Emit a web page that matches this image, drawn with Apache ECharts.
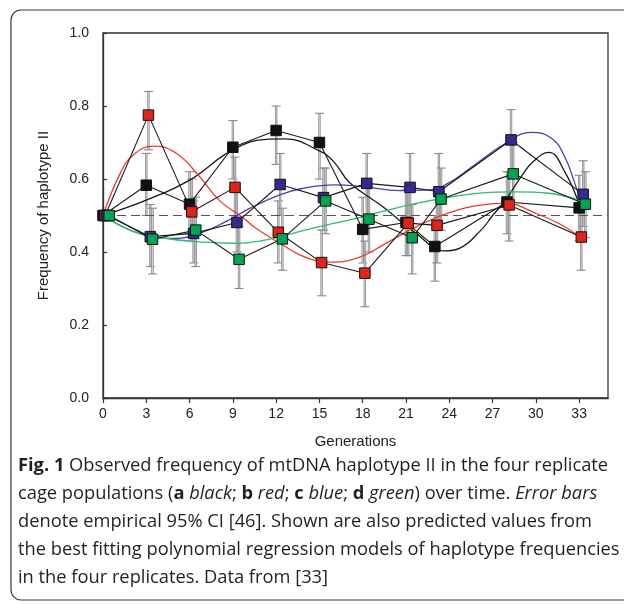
<!DOCTYPE html>
<html>
<head>
<meta charset="utf-8">
<script src="https://cdn.jsdelivr.net/npm/echarts@6/dist/echarts.min.js"></script>
<style>html,body{margin:0;padding:0;background:#fff;}#c{width:624px;height:605px;}</style>
</head>
<body>
<div id="c"></div>
<script>
// ---- data ----
const generations = [0, 3, 6, 9, 12, 15, 18, 21, 23, 28, 33];
const xTicks = [0, 3, 6, 9, 12, 15, 18, 21, 24, 27, 30, 33];
const yTicks = [0, 0.2, 0.4, 0.6, 0.8, 1.0];
const refLevel = 0.5;

const freqA = [0.50, 0.583, 0.531, 0.687, 0.733, 0.700, 0.462, 0.481, 0.415, 0.537, 0.521];
const freqB = [0.50, 0.775, 0.510, 0.577, 0.454, 0.371, 0.342, 0.479, 0.473, 0.529, 0.441];
const freqC = [0.50, 0.442, 0.451, 0.481, 0.585, 0.549, 0.588, 0.577, 0.565, 0.707, 0.558];
const freqD = [0.50, 0.435, 0.460, 0.380, 0.436, 0.540, 0.490, 0.439, 0.545, 0.614, 0.531];

const loA = [null, 0.50, 0.45, 0.60, 0.64, 0.60, 0.37, 0.39, 0.32, 0.45, 0.43];
const hiA = [null, 0.67, 0.62, 0.76, 0.80, 0.78, 0.55, 0.57, 0.50, 0.62, 0.61];
const loB = [null, 0.68, 0.43, 0.49, 0.37, 0.28, 0.25, 0.39, 0.37, 0.43, 0.35];
const hiB = [null, 0.84, 0.60, 0.66, 0.54, 0.46, 0.43, 0.57, 0.56, 0.62, 0.53];
const loC = [null, 0.36, 0.37, 0.40, 0.50, 0.46, 0.50, 0.49, 0.48, 0.62, 0.47];
const hiC = [null, 0.53, 0.54, 0.57, 0.67, 0.63, 0.67, 0.67, 0.67, 0.79, 0.65];
const loD = [null, 0.34, 0.36, 0.30, 0.35, 0.45, 0.40, 0.34, 0.46, 0.53, 0.44];
const hiD = [null, 0.52, 0.55, 0.47, 0.52, 0.63, 0.58, 0.53, 0.63, 0.70, 0.62];

// fitted polynomial curves
const fitAx = [0, 3, 6, 9, 11.5, 12.6, 15, 16, 17.1, 19.4, 21.7, 23.7, 24.7, 26.2, 27, 27.9, 28.9, 29.8, 30.9, 32, 33];
const fitAy = [0.50, 0.542, 0.597, 0.680, 0.709, 0.710, 0.677, 0.647, 0.590, 0.524, 0.451, 0.403, 0.410, 0.460, 0.500, 0.542, 0.602, 0.647, 0.673, 0.620, 0.530];
const fitBx = [0, 1.2, 2.1, 3.5, 5.1, 6.7, 8.1, 9.6, 10.6, 12, 13.6, 14.8, 15.8, 17.8, 19.4, 21.7, 24, 26.3, 27.9, 30, 31.8, 33];
const fitBy = [0.50, 0.616, 0.666, 0.690, 0.670, 0.606, 0.540, 0.497, 0.465, 0.430, 0.393, 0.376, 0.372, 0.386, 0.419, 0.469, 0.508, 0.529, 0.533, 0.506, 0.474, 0.442];
const fitCx = [0, 1.6, 3.2, 5.1, 6.7, 8.5, 10.2, 12.2, 13.8, 16.1, 18.4, 20.7, 22.6, 24, 25.6, 27.9, 29.7, 31.1, 32, 32.7, 33];
const fitCy = [0.50, 0.465, 0.443, 0.437, 0.451, 0.483, 0.520, 0.556, 0.574, 0.584, 0.577, 0.568, 0.570, 0.590, 0.634, 0.698, 0.728, 0.711, 0.661, 0.588, 0.552];
const fitDx = [0, 2.1, 4.4, 6.7, 9, 11.3, 13.6, 15.9, 17.8, 19.4, 21.7, 24, 26.3, 28.6, 30.9, 33];
const fitDy = [0.50, 0.456, 0.437, 0.428, 0.424, 0.433, 0.456, 0.478, 0.494, 0.511, 0.533, 0.550, 0.562, 0.565, 0.561, 0.542];

// ---- styling ----
const colA = '#111111', colB = '#e2231a', colC = '#352a94', colD = '#00a551';
const fitColA = '#1a1a1a', fitColB = '#ee3a2c', fitColC = '#4b3db5', fitColD = '#2dbd6e';
const offsets = [0, 0.15, 0.28, 0.43];

const chart = echarts.init(document.getElementById('c'), null, {renderer: 'canvas'});

function pts(xs, ys, off) { return xs.map((x, i) => [x + (off || 0), ys[i]]); }
function errData(lo, hi, off) {
  const out = [];
  generations.forEach((g, i) => { if (lo[i] != null) out.push([g + off, lo[i], hi[i]]); });
  return out;
}
function renderErr(params, api) {
  const x = api.value(0), lo = api.value(1), hi = api.value(2);
  const p1 = api.coord([x, lo]), p2 = api.coord([x, hi]);
  const w = 4.5;
  const s = {stroke: '#8a8a8a', lineWidth: 1.1};
  return {type: 'group', children: [
    {type: 'line', shape: {x1: p1[0], y1: p1[1], x2: p2[0], y2: p2[1]}, style: {stroke: '#8a8a8a', lineWidth: 2.4}},
    {type: 'line', shape: {x1: p1[0], y1: p1[1], x2: p2[0], y2: p2[1]}, style: {stroke: '#dcdcdc', lineWidth: 0.8}},
    {type: 'line', shape: {x1: p1[0] - w, y1: p1[1], x2: p1[0] + w, y2: p1[1]}, style: s},
    {type: 'line', shape: {x1: p2[0] - w, y1: p2[1], x2: p2[0] + w, y2: p2[1]}, style: s}
  ]};
}
function errSeries(lo, hi, off) {
  return {type: 'custom', renderItem: renderErr, data: errData(lo, hi, off), encode: {x: 0, y: [1, 2]}, z: 1, silent: true};
}
function fitSeries(xs, ys, color) {
  return {type: 'line', data: pts(xs, ys, 0), smooth: 0.45, symbol: 'none', z: 3, silent: true,
    lineStyle: {color: color, width: 1.3}};
}
function obsSeries(vals, off, color) {
  return {type: 'line', data: pts(generations, vals, off), symbol: 'rect', symbolSize: 10.5, z: 4, silent: true,
    lineStyle: {color: '#1a1a1a', width: 1.1},
    itemStyle: {color: color, borderColor: '#111', borderWidth: 1}};
}

const FS = 18.3;
const FF = '"Open Sans", "Noto Sans", sans-serif';
const cap = {fontSize: FS, fontFamily: FF, fill: '#231f20'};
const rich = {
  b: {fontSize: FS, fontFamily: FF, fontWeight: 'bold', fill: '#231f20'},
  i: {fontSize: FS, fontFamily: FF, fontStyle: 'italic', fill: '#231f20'},
  n: {fontSize: FS, fontFamily: FF, fill: '#231f20'}
};
const captionLines = [
  '{b|Fig. 1}{n| Observed frequency of mtDNA haplotype II in the four replicate}',
  '{n|cage populations (}{b|a}{n| }{i|black}{n|; }{b|b}{n| }{i|red}{n|; }{b|c}{n| }{i|blue}{n|; }{b|d}{n| }{i|green}{n|) over time. }{i|Error bars}',
  '{n|denote empirical 95% CI [46]. Shown are also predicted values from}',
  '{n|the best fitting polynomial regression models of haplotype frequencies}',
  '{n|in the four replicates. Data from [33]}'
];
const graphics = [
  {type: 'rect', shape: {x: 11, y: 10, width: 680, height: 590, r: 10}, style: {fill: 'none', stroke: '#3a3a3a', lineWidth: 1.2}, silent: true}
];
captionLines.forEach((t, k) => {
  graphics.push({type: 'text', x: 18, y: 466 + k * 28, silent: true,
    style: Object.assign({text: t, rich: rich, verticalAlign: 'middle', align: 'left'}, cap)});
});

const option = {
  animation: false,
  backgroundColor: '#fff',
  grid: {left: 103, right: 16, top: 33, bottom: 207, show: true, borderColor: '#333', borderWidth: 1.3, containLabel: false},
  xAxis: {
    type: 'value', min: 0, max: 35,
    name: 'Generations', nameLocation: 'middle', nameGap: 36,
    nameTextStyle: {fontSize: 15, fontFamily: '"Liberation Sans", Arial, sans-serif', color: '#222'},
    axisLine: {show: true, onZero: false, lineStyle: {color: '#333', width: 1.3}},
    axisTick: {show: true, length: 5, customValues: xTicks, lineStyle: {color: '#333', width: 1.2}},
    axisLabel: {customValues: xTicks, margin: 9, fontSize: 14, fontFamily: '"Liberation Sans", Arial, sans-serif', color: '#222'},
    splitLine: {show: false}
  },
  yAxis: {
    type: 'value', min: 0, max: 1, interval: 0.2,
    name: 'Frequency of haplotype II', nameLocation: 'middle', nameGap: 52,
    nameTextStyle: {fontSize: 15, fontFamily: '"Liberation Sans", Arial, sans-serif', color: '#222'},
    axisLine: {show: true, lineStyle: {color: '#333', width: 1.3}},
    axisTick: {show: true, inside: true, length: 4, customValues: yTicks, lineStyle: {color: '#333', width: 1.2}},
    axisLabel: {customValues: yTicks, margin: 14, fontSize: 14, fontFamily: '"Liberation Sans", Arial, sans-serif', color: '#222',
      formatter: v => v.toFixed(1)},
    splitLine: {show: false}
  },
  series: [
    errSeries(loA, hiA, offsets[0]),
    errSeries(loB, hiB, offsets[1]),
    errSeries(loC, hiC, offsets[2]),
    errSeries(loD, hiD, offsets[3]),
    {type: 'line', data: [[0, refLevel], [35, refLevel]], symbol: 'none', z: 2, silent: true,
      lineStyle: {color: '#555', width: 1.2, type: [9, 5]}},
    fitSeries(fitAx, fitAy, fitColA),
    fitSeries(fitBx, fitBy, fitColB),
    fitSeries(fitCx, fitCy, fitColC),
    fitSeries(fitDx, fitDy, fitColD),
    obsSeries(freqA, offsets[0], colA),
    obsSeries(freqB, offsets[1], colB),
    obsSeries(freqC, offsets[2], colC),
    obsSeries(freqD, offsets[3], colD)
  ],
  graphic: graphics
};
chart.setOption(option);
</script>
</body>
</html>
